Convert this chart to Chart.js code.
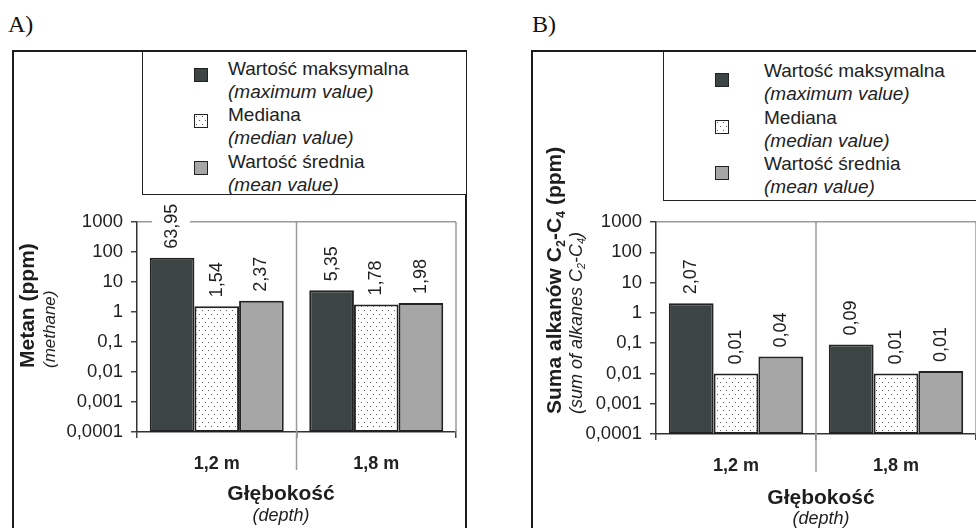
<!DOCTYPE html>
<html>
<head>
<meta charset="utf-8">
<script src="https://cdn.jsdelivr.net/npm/chart.js@4/dist/chart.umd.min.js"></script>
<style>
  body { margin: 0; width: 976px; height: 528px; overflow: hidden; background: #fff; position: relative; font-family: "Liberation Sans", Arial, sans-serif; color: #222; }
  .tag { position: absolute; top: 12px; font: 24px/24px "Liberation Serif", "Times New Roman", serif; color: #111; }
  .frame { position: absolute; top: 50px; height: 500px; border: 2px solid #1c1c1c; }
  .legend { position: absolute; top: 52px; background: #fff; border-left: 1px solid #222; border-bottom: 1px solid #222; }
  .item { position: absolute; font-size: 19px; line-height: 23px; white-space: nowrap; }
  .item i { display: block; }
  .sw { position: absolute; box-sizing: border-box; border: 1.5px solid #222; }
  canvas { position: absolute; }
</style>
</head>
<body>
<div class="tag" style="left:8px">A)</div>
<div class="tag" style="left:532px">B)</div>
<div class="frame" style="left:12px;width:451px"></div>
<div class="frame" style="left:531px;width:600px"></div>
<div class="legend" id="legA" style="left:142px;width:323px;height:142px"></div>
<div class="legend" id="legB" style="left:663px;width:400px;height:148px"></div>
<canvas id="chartA" width="450" height="475" style="left:15px;top:53px"></canvas>
<canvas id="chartB" width="443" height="475" style="left:533px;top:53px"></canvas>
<script>
const depths = ["1,2 m", "1,8 m"];
const seriesPl = ["Wartość maksymalna", "Mediana", "Wartość średnia"];
const seriesEn = ["(maximum value)", "(median value)", "(mean value)"];
const yTicks = [0.0001, 0.001, 0.01, 0.1, 1, 10, 100, 1000];
const yTickLabels = ["0,0001", "0,001", "0,01", "0,1", "1", "10", "100", "1000"];

// A) metan
const methaneMax = [63.95, 5.35];
const methaneMedian = [1.54, 1.78];
const methaneMean = [2.37, 1.98];

// B) suma alkanów C2-C4
const alkanesMax = [2.07, 0.09];
const alkanesMedian = [0.01, 0.01];
const alkanesMean = [0.036, 0.012];

const FONT = "Liberation Sans";

// dotted fill for the median bars
const patCanvas = document.createElement("canvas");
patCanvas.width = 6;
patCanvas.height = 8;
const pctx = patCanvas.getContext("2d");
pctx.fillStyle = "#fff";
pctx.fillRect(0, 0, 6, 8);
pctx.fillStyle = "#5a5a5a";
pctx.fillRect(1, 1, 1, 1);
pctx.fillRect(4, 5, 1, 1);
const dots = pctx.createPattern(patCanvas, "repeat");
const colors = ["#3c4543", dots, "#a6a6a6"];

function buildLegend(id, swLeft, swSize, textLeft, tops, swOffset) {
  const box = document.getElementById(id);
  seriesPl.forEach((name, i) => {
    const sw = document.createElement("div");
    sw.className = "sw";
    sw.style.cssText = `left:${swLeft}px;top:${tops[i] + swOffset}px;width:${swSize}px;height:${swSize}px;`;
    sw.style.background = i === 1 ? `#fff url(${patCanvas.toDataURL()})` : colors[i];
    box.appendChild(sw);
    const it = document.createElement("div");
    it.className = "item";
    it.style.left = textLeft + "px";
    it.style.top = tops[i] + "px";
    it.innerHTML = `${name}<i>${seriesEn[i]}</i>`;
    box.appendChild(it);
  });
}
buildLegend("legA", 51, 14, 85, [5, 51, 98], 11);
buildLegend("legB", 51, 14, 100, [7, 54, 100], 14);

// draw text made of segments (subscripts) rotated or not
function drawSegments(ctx, segs, x, y, size, style, rotate, align) {
  ctx.save();
  ctx.translate(x, y);
  if (rotate) ctx.rotate(-Math.PI / 2);
  ctx.textBaseline = "alphabetic";
  ctx.textAlign = "left";
  ctx.fillStyle = "#1e1e1e";
  let total = 0;
  segs.forEach((s) => {
    ctx.font = `${style} ${s.sub ? size * 0.6 : size}px "${FONT}"`;
    total += ctx.measureText(s.t).width;
  });
  let cx = align === "center" ? -total / 2 : 0;
  segs.forEach((s) => {
    ctx.font = `${style} ${s.sub ? size * 0.6 : size}px "${FONT}"`;
    ctx.fillText(s.t, cx, s.sub ? size * 0.18 : 0);
    cx += ctx.measureText(s.t).width;
  });
  ctx.restore();
}

const decor = {
  id: "decor",
  afterDatasetsDraw(chart, args, opts) {
    const ctx = chart.ctx;
    const a = chart.chartArea;
    const xs = chart.scales.x;
    ctx.save();
    ctx.strokeStyle = "#9a9a9a";
    ctx.lineWidth = 1.5;
    const mid = (xs.getPixelForTick(0) + xs.getPixelForTick(1)) / 2;
    ctx.beginPath();
    ctx.moveTo(mid, a.top);
    ctx.lineTo(mid, a.bottom + 38);
    ctx.moveTo(a.right, a.top);
    ctx.lineTo(a.right, a.bottom);
    ctx.stroke();

    // value labels, rotated, on a white box
    ctx.font = `18px "${FONT}"`;
    chart.data.datasets.forEach((ds, di) => {
      chart.getDatasetMeta(di).data.forEach((bar, i) => {
        const txt = ds.data[i].toFixed(2).replace(".", ",");
        const w = ctx.measureText(txt).width;
        ctx.save();
        ctx.translate(bar.x - 1, bar.y - 9);
        ctx.rotate(-Math.PI / 2);
        ctx.fillStyle = "#fff";
        ctx.fillRect(-2, -19, w + 4, 38);
        ctx.fillStyle = "#1e1e1e";
        ctx.textAlign = "left";
        ctx.textBaseline = "middle";
        ctx.fillText(txt, 0, 1);
        ctx.restore();
      });
    });
    ctx.restore();

    opts.yTitle.forEach((l) => drawSegments(ctx, l.segs, l.x, l.y, l.size, l.style, true, "left"));
    opts.xTitle.forEach((l) => drawSegments(ctx, l.segs, l.x, l.y, l.size, l.style, false, "center"));
  },
};

function buildChart(id, maxV, medV, meanV, geo, yTitle, xTitle) {
  return new Chart(document.getElementById(id), {
    type: "bar",
    data: {
      labels: depths,
      datasets: [
        { label: seriesPl[0], data: maxV, backgroundColor: colors[0] },
        { label: seriesPl[1], data: medV, backgroundColor: colors[1] },
        { label: seriesPl[2], data: meanV, backgroundColor: colors[2] },
      ],
    },
    options: {
      responsive: false,
      animation: false,
      events: [],
      layout: { padding: { top: geo.top, right: geo.right, left: 0, bottom: 0 } },
      datasets: {
        bar: { borderColor: "#222", borderWidth: 2, borderSkipped: false, categoryPercentage: 0.84, barPercentage: 1 },
      },
      plugins: {
        legend: { display: false },
        tooltip: { enabled: false },
        decor: { yTitle, xTitle },
      },
      scales: {
        x: {
          grid: { offset: true, drawOnChartArea: false, tickLength: 6, tickColor: "#444", lineWidth: 1.5 },
          border: { color: "#333", width: 1.5 },
          ticks: { font: { family: FONT, size: 18, weight: "bold" }, color: "#222", padding: 15 },
          afterFit: (s) => { s.height = geo.xHeight; },
        },
        y: {
          type: "logarithmic",
          min: 0.0001,
          max: 1000,
          afterBuildTicks: (s) => { s.ticks = yTicks.map((v) => ({ value: v })); },
          ticks: {
            callback: (v) => yTickLabels[yTicks.indexOf(v)],
            font: { family: FONT, size: 18.5 },
            color: "#222",
            padding: 8,
          },
          grid: {
            color: (c) => (c.tick && c.tick.value === 1000 ? "#9a9a9a" : "rgba(0,0,0,0)"),
            lineWidth: 1.5,
            tickColor: "#444",
            tickLength: 6,
          },
          border: { color: "#333", width: 1.5 },
          afterFit: (s) => { s.width = geo.yWidth; },
        },
      },
    },
    plugins: [decor],
  });
}

buildChart("chartA", methaneMax, methaneMedian, methaneMean,
  { top: 169, right: 9, yWidth: 122, xHeight: 96 },
  [
    { segs: [{ t: "Metan (ppm)" }], x: 19, y: 315, size: 21, style: "bold" },
    { segs: [{ t: "(methane)" }], x: 40, y: 315, size: 17, style: "italic" },
  ],
  [
    { segs: [{ t: "Głębokość" }], x: 266, y: 447, size: 21, style: "bold" },
    { segs: [{ t: "(depth)" }], x: 266, y: 468, size: 18, style: "italic" },
  ]);

buildChart("chartB", alkanesMax, alkanesMedian, alkanesMean,
  { top: 169, right: 0, yWidth: 123, xHeight: 94 },
  [
    { segs: [{ t: "Suma alkanów C" }, { t: "2", sub: true }, { t: "-C" }, { t: "4", sub: true }, { t: " (ppm)" }], x: 28, y: 361, size: 21, style: "bold" },
    { segs: [{ t: "(sum of alkanes C" }, { t: "2", sub: true }, { t: "-C" }, { t: "4", sub: true }, { t: ")" }], x: 49, y: 361, size: 18, style: "italic" },
  ],
  [
    { segs: [{ t: "Głębokość" }], x: 288, y: 451, size: 21, style: "bold" },
    { segs: [{ t: "(depth)" }], x: 288, y: 471, size: 18, style: "italic" },
  ]);
</script>
</body>
</html>
